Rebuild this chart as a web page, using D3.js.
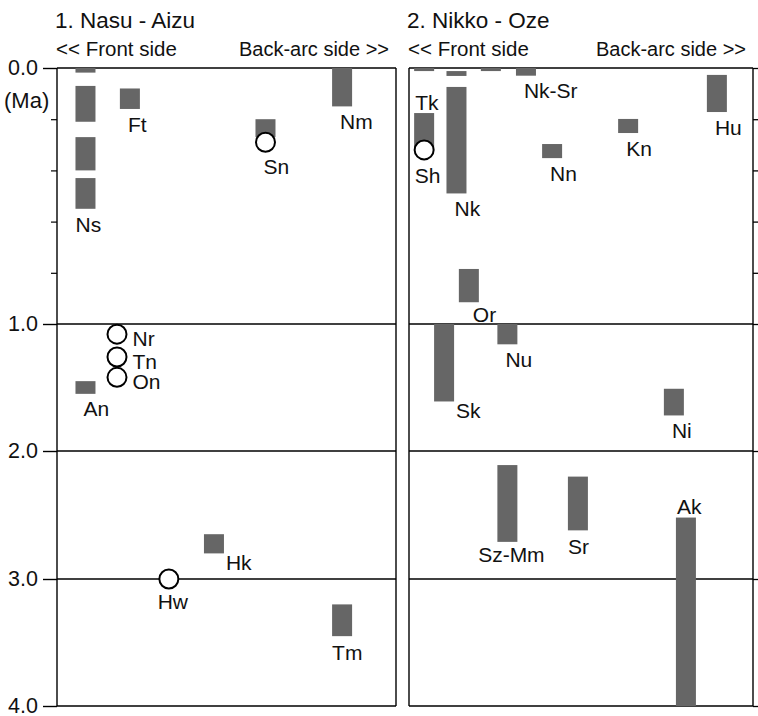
<!DOCTYPE html>
<html>
<head>
<meta charset="utf-8">
<script src="https://cdn.jsdelivr.net/npm/d3@7"></script>
<style>
    body { margin: 0; background: #fff; }
    svg text { font-family: "Liberation Sans", Arial, Helvetica, sans-serif; fill: #111; }
</style>
</head>
<body>
<div class="chart"></div>
<script>
const ctx = {
    W: 758,
    H: 716,
}

const panel_titles = ["1. Nasu - Aizu", "2. Nikko - Oze"]
const side_labels = ["<< Front side", "Back-arc side >>"]
const age_ticks = [0, 1, 2, 3, 4]
const age_minor = [0.2, 0.4, 0.6, 0.8]

// pos = place across the arc (0 front side .. 100 back-arc side), ages in Ma
const nasu_bars = [
    { pos: 8.4, from: 0.0, to: 0.018 },
    { pos: 8.4, from: 0.07, to: 0.21 },
    { pos: 8.4, from: 0.27, to: 0.40 },
    { pos: 8.4, from: 0.43, to: 0.55, label: "Ns" },
    { pos: 21.5, from: 0.08, to: 0.16, label: "Ft" },
    { pos: 61.5, from: 0.20, to: 0.27 },
    { pos: 84.1, from: 0.0, to: 0.15, label: "Nm" },
    { pos: 8.4, from: 1.45, to: 1.55, label: "An" },
    { pos: 46.3, from: 2.65, to: 2.80, label: "Hk" },
    { pos: 84.1, from: 3.20, to: 3.45, label: "Tm" },
]
const nasu_dots = [
    { pos: 61.5, age: 0.29, label: "Sn" },
    { pos: 17.7, age: 1.08, label: "Nr" },
    { pos: 17.7, age: 1.26, label: "Tn" },
    { pos: 17.7, age: 1.42, label: "On" },
    { pos: 33.0, age: 3.0, label: "Hw" },
]

const nikko_bars = [
    { pos: 4.4, from: 0.0, to: 0.012 },
    { pos: 13.8, from: 0.012, to: 0.031 },
    { pos: 23.8, from: 0.0, to: 0.012 },
    { pos: 34.0, from: 0.0, to: 0.03, label: "Nk-Sr" },
    { pos: 4.4, from: 0.176, to: 0.32, label: "Tk" },
    { pos: 13.8, from: 0.074, to: 0.49, label: "Nk" },
    { pos: 41.6, from: 0.297, to: 0.352, label: "Nn" },
    { pos: 63.7, from: 0.199, to: 0.254, label: "Kn" },
    { pos: 89.5, from: 0.027, to: 0.172, label: "Hu" },
    { pos: 17.4, from: 0.785, to: 0.915, label: "Or" },
    { pos: 10.2, from: 1.0, to: 1.61, label: "Sk" },
    { pos: 28.6, from: 1.0, to: 1.16, label: "Nu" },
    { pos: 77.0, from: 1.51, to: 1.72, label: "Ni" },
    { pos: 28.6, from: 2.11, to: 2.71, label: "Sz-Mm" },
    { pos: 49.1, from: 2.20, to: 2.62, label: "Sr" },
    { pos: 80.5, from: 2.52, to: 4.0, label: "Ak" },
]
const nikko_dots = [
    { pos: 4.4, age: 0.32, label: "Sh" },
]

// where each name sits next to its mark
const label_place = {
    Ns: "belowL", Ft: "below", Nm: "below", An: "below", Hk: "side", Tm: "belowL",
    Sn: "below", Nr: "right", Tn: "right", On: "right", Hw: "belowC",
    "Nk-Sr": "below", Tk: "above", Nk: "below", Nn: "below", Kn: "below", Hu: "below",
    Or: "belowR", Sk: "side", Nu: "below", Ni: "below", "Sz-Mm": "belowC", Sr: "belowL",
    Ak: "above", Sh: "belowL",
}

const BAR_W = 20
const DOT_R = 9.5

function create_chart() {
    const svg = d3.select(".chart")
        .append("svg")
        .attr("width", ctx.W)
        .attr("height", ctx.H)

    ctx.y = d3.scaleLinear()
        .domain(age_ticks)
        .range([68, 324, 451, 579, 706])

    draw_panel(svg, 0, [57, 396], nasu_bars, nasu_dots)
    draw_panel(svg, 1, [409, 753], nikko_bars, nikko_dots)
}

function place_label(g, name, box) {
    let mode = label_place[name] || "below"
    let x, y, anchor = "start"
    if (mode == "below") { x = box.cx - 2; y = box.y1 + 15 }
    else if (mode == "belowL") { x = box.x0; y = box.y1 + 16 }
    else if (mode == "belowR") { x = box.cx + 4; y = box.y1 + 12 }
    else if (mode == "belowC") { x = box.cx + 4; y = box.y1 + 13; anchor = "middle" }
    else if (mode == "side") { x = box.x1 + 2; y = box.y1 + 9 }
    else if (mode == "right") { x = box.x1 + 6; y = box.cy + 4 }
    else if (mode == "above") { x = box.x0 + 1; y = box.y0 - 11 }

    g.append("text")
        .attr("x", x)
        .attr("y", y)
        .attr("dy", "0.36em")
        .attr("text-anchor", anchor)
        .attr("font-size", 21)
        .text(name)
}

function draw_panel(svg, i, x_range, bars, dots) {
    const y = ctx.y
    const x = d3.scaleLinear().domain([0, 100]).range(x_range)
    const [x0, x1] = x_range
    const g = svg.append("g").attr("class", "panel-" + i)

    // titles
    g.append("text")
        .attr("x", x0 - 2)
        .attr("y", 28)
        .attr("font-size", 22.5)
        .text(panel_titles[i])
    g.append("text")
        .attr("x", x0 - 1)
        .attr("y", 56)
        .attr("font-size", 20.5)
        .text(side_labels[0])
    g.append("text")
        .attr("x", x1 - 7)
        .attr("y", 56)
        .attr("font-size", 20)
        .attr("text-anchor", "end")
        .text(side_labels[1])

    // grid lines at each Ma
    g.append("g")
        .selectAll("line")
        .data(age_ticks)
        .enter()
        .append("line")
        .attr("x1", x0)
        .attr("x2", x1)
        .attr("y1", d => y(d))
        .attr("y2", d => y(d))
        .attr("stroke", "#000")
        .attr("stroke-width", 1.4)

    // frame sides
    g.append("g")
        .selectAll("line")
        .data([x0, x1])
        .enter()
        .append("line")
        .attr("x1", d => d)
        .attr("x2", d => d)
        .attr("y1", y(0))
        .attr("y2", y(4))
        .attr("stroke", "#000")
        .attr("stroke-width", 1.4)

    if (i == 0) {
        const ax = g.append("g")
            .attr("transform", `translate(${x0},0)`)
            .call(d3.axisLeft(y).tickValues(age_ticks).tickSize(14).tickSizeOuter(0).tickPadding(5).tickFormat(d3.format(".1f")))
        ax.select(".domain").remove()
        ax.selectAll("line").attr("stroke", "#000").attr("stroke-width", 1.4)
        ax.selectAll("text").attr("font-size", 21.5).attr("fill", "#111")
            .attr("font-family", '"Liberation Sans", Arial, sans-serif')

        const mn = g.append("g")
            .attr("transform", `translate(${x0},0)`)
            .call(d3.axisLeft(y).tickValues(age_minor).tickSize(6).tickFormat(""))
        mn.select(".domain").remove()
        mn.selectAll("line").attr("stroke", "#000").attr("stroke-width", 1.2)

        g.append("text")
            .attr("x", 4)
            .attr("y", y(0.125))
            .attr("dy", "0.36em")
            .attr("font-size", 22)
            .text("(Ma)")
    } else {
        const ax = g.append("g")
            .attr("transform", `translate(${x1},0)`)
            .call(d3.axisRight(y).tickValues(age_ticks.concat(age_minor)).tickSize(5).tickSizeOuter(0).tickFormat(""))
        ax.select(".domain").remove()
        ax.selectAll("line").attr("stroke", "#000").attr("stroke-width", 1.3)
    }

    // age ranges
    g.append("g")
        .selectAll("rect")
        .data(bars)
        .enter()
        .append("rect")
        .attr("x", d => x(d.pos) - BAR_W / 2)
        .attr("y", d => y(d.from))
        .attr("width", BAR_W)
        .attr("height", d => Math.max(y(d.to) - y(d.from), 2.5))
        .attr("fill", "#666")

    // single ages
    g.append("g")
        .selectAll("circle")
        .data(dots)
        .enter()
        .append("circle")
        .attr("cx", d => x(d.pos))
        .attr("cy", d => y(d.age))
        .attr("r", DOT_R)
        .attr("fill", "#fff")
        .attr("stroke", "#000")
        .attr("stroke-width", 2)

    const lg = g.append("g").attr("class", "labels")
    bars.filter(d => d.label).forEach(d => {
        let cx = x(d.pos)
        place_label(lg, d.label, { x0: cx - BAR_W / 2, x1: cx + BAR_W / 2, cx: cx, y0: y(d.from), y1: y(d.to), cy: (y(d.from) + y(d.to)) / 2 })
    })
    dots.filter(d => d.label).forEach(d => {
        let cx = x(d.pos), cy = y(d.age)
        place_label(lg, d.label, { x0: cx - DOT_R, x1: cx + DOT_R, cx: cx, y0: cy - DOT_R, y1: cy + DOT_R, cy: cy })
    })
}

create_chart()
</script>
</body>
</html>
